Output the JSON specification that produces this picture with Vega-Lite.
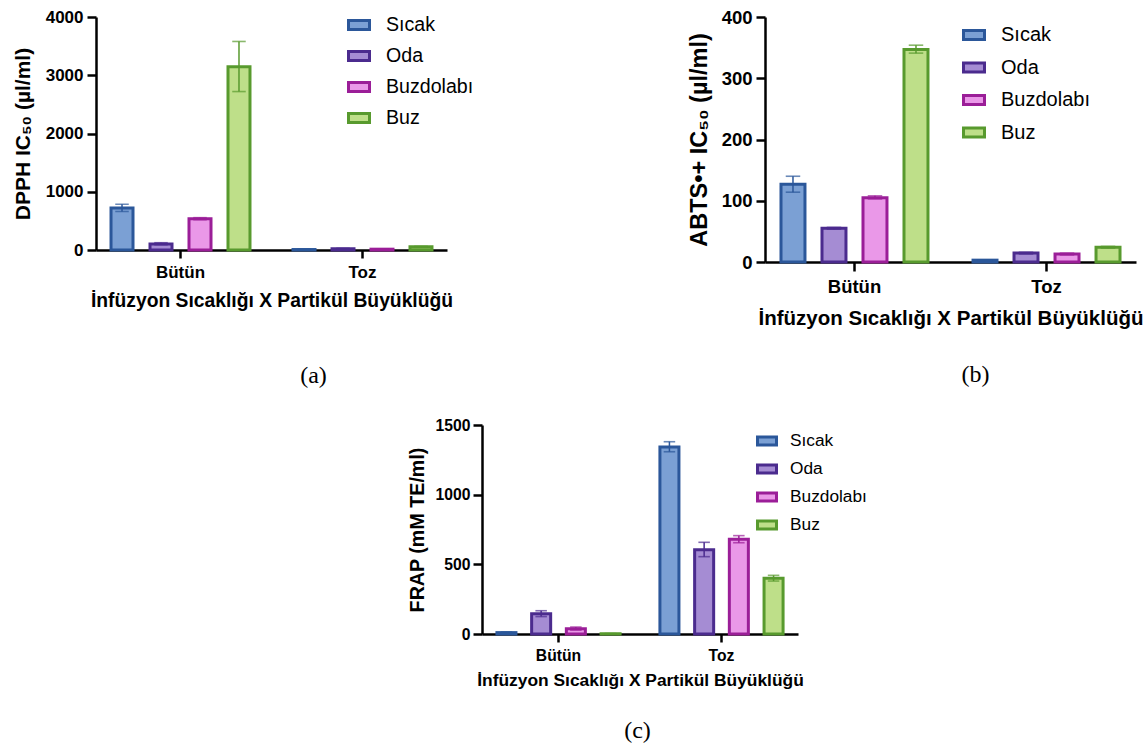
{
  "$schema": "https://vega.github.io/schema/vega-lite/v6.json",
  "background": "white",
  "padding": {"left": 12, "top": 8, "right": 0, "bottom": 0},
  "config": {
    "font": "Liberation Sans",
    "view": {"stroke": null},
    "axis": {"domainColor": "black", "domainWidth": 2.5, "tickColor": "black", "tickWidth": 2.5, "labelColor": "black", "titleColor": "black", "labelFontWeight": "bold", "titleFontWeight": "bold", "grid": false, "labelFont": "Liberation Sans", "titleFont": "Liberation Sans"},
    "legend": {"labelFont": "Liberation Sans", "labelColor": "black", "symbolStrokeWidth": 3, "symbolType": "M-1,-0.43H1V0.43H-1Z", "padding": 0, "title": null},
    "title": {"font": "Liberation Serif", "fontWeight": "normal", "color": "black", "orient": "bottom", "fontSize": 24, "frame": "group"}
  },
  "columns": 2,
  "spacing": {"row": 163, "column": 318},
  "bounds": "flush",
  "resolve": {"scale": {"fill": "independent", "stroke": "independent", "xOffset": "independent", "x": "independent", "y": "independent"}, "legend": {"fill": "independent", "stroke": "independent"}},
  "concat": [
    {
      "width": 351, "height": 233,
      "title": {"text": "(a)", "dx": 42, "offset": 54},
      "data": {"values": [
        {"grup": "Bütün", "sicaklik": "Sıcak", "ortalama": 720, "alt": 660, "ust": 785},
        {"grup": "Bütün", "sicaklik": "Oda", "ortalama": 105, "alt": 90, "ust": 125},
        {"grup": "Bütün", "sicaklik": "Buzdolabı", "ortalama": 535, "alt": 520, "ust": 555},
        {"grup": "Bütün", "sicaklik": "Buz", "ortalama": 3145, "alt": 2720, "ust": 3580},
        {"grup": "Toz", "sicaklik": "Sıcak", "ortalama": 8, "alt": 4, "ust": 12},
        {"grup": "Toz", "sicaklik": "Oda", "ortalama": 22, "alt": 16, "ust": 28},
        {"grup": "Toz", "sicaklik": "Buzdolabı", "ortalama": 14, "alt": 10, "ust": 18},
        {"grup": "Toz", "sicaklik": "Buz", "ortalama": 55, "alt": 48, "ust": 62}
      ]},
      "encoding": {
        "x": {"field": "grup", "type": "nominal", "sort": ["Bütün", "Toz"], "scale": {"paddingInner": 0.0714, "paddingOuter": 0}, "axis": {"title": "İnfüzyon Sıcaklığı X Partikül Büyüklüğü", "labelAngle": 0, "labelFontSize": 17, "titleFontSize": 19.3, "tickSize": 8, "labelPadding": 6, "titlePadding": 11}},
        "xOffset": {"field": "sicaklik", "type": "nominal", "sort": ["Sıcak", "Oda", "Buzdolabı", "Buz"], "scale": {"paddingInner": 0.436, "paddingOuter": 0.385}}
      },
      "layer": [
        {"mark": {"type": "bar", "strokeWidth": 3},
         "encoding": {
           "y": {"field": "ortalama", "type": "quantitative", "title": "DPPH IC₅₀ (µl/ml)", "scale": {"domain": [0, 4000], "nice": false}, "axis": {"values": [0, 1000, 2000, 3000, 4000], "format": "d", "labelFontSize": 17, "titleFontSize": 21, "tickSize": 9, "labelPadding": 4, "titlePadding": 12}},
           "fill": {"field": "sicaklik", "type": "nominal", "scale": {"domain": ["Sıcak", "Oda", "Buzdolabı", "Buz"], "range": ["#7ba0d4", "#a58cd3", "#ea98e8", "#bedf89"]}, "legend": {"orient": "none", "legendX": 251, "legendY": -4, "labelFontSize": 19.6, "rowPadding": 8, "labelOffset": 15, "symbolSize": 441}},
           "stroke": {"field": "sicaklik", "type": "nominal", "scale": {"domain": ["Sıcak", "Oda", "Buzdolabı", "Buz"], "range": ["#2b579a", "#4b2b8e", "#9b1e98", "#589a2e"]}, "legend": {"orient": "none", "legendX": 251, "legendY": -4, "labelFontSize": 19.6, "rowPadding": 8, "labelOffset": 15, "symbolSize": 441}}
         }},
        {"mark": {"type": "rule", "strokeWidth": 1.5},
         "encoding": {
           "y": {"field": "alt", "type": "quantitative", "title": "DPPH IC₅₀ (µl/ml)"},
           "y2": {"field": "ust"},
           "stroke": {"field": "sicaklik", "type": "nominal", "legend": null}
         }},
        {"mark": {"type": "tick", "size": 12, "thickness": 0.1, "filled": false, "strokeWidth": 1.5},
         "encoding": {
           "y": {"field": "ust", "type": "quantitative", "title": "DPPH IC₅₀ (µl/ml)"},
           "stroke": {"field": "sicaklik", "type": "nominal", "legend": null}
         }},
        {"mark": {"type": "tick", "size": 12, "thickness": 0.1, "filled": false, "strokeWidth": 1.5},
         "encoding": {
           "y": {"field": "alt", "type": "quantitative", "title": "DPPH IC₅₀ (µl/ml)"},
           "stroke": {"field": "sicaklik", "type": "nominal", "legend": null}
         }}
      ]
    },
    {
      "width": 371, "height": 245,
      "title": {"text": "(b)", "dx": 25, "offset": 34},
      "data": {"values": [
        {"grup": "Bütün", "sicaklik": "Sıcak", "ortalama": 127, "alt": 114, "ust": 140},
        {"grup": "Bütün", "sicaklik": "Oda", "ortalama": 55, "alt": 53.5, "ust": 56.5},
        {"grup": "Bütün", "sicaklik": "Buzdolabı", "ortalama": 105, "alt": 103, "ust": 108},
        {"grup": "Bütün", "sicaklik": "Buz", "ortalama": 347, "alt": 341, "ust": 354},
        {"grup": "Toz", "sicaklik": "Sıcak", "ortalama": 3, "alt": 2.5, "ust": 3.5},
        {"grup": "Toz", "sicaklik": "Oda", "ortalama": 14.5, "alt": 13, "ust": 16},
        {"grup": "Toz", "sicaklik": "Buzdolabı", "ortalama": 13, "alt": 11.5, "ust": 14.5},
        {"grup": "Toz", "sicaklik": "Buz", "ortalama": 24, "alt": 22.5, "ust": 25.5}
      ]},
      "encoding": {
        "x": {"field": "grup", "type": "nominal", "sort": ["Bütün", "Toz"], "scale": {"paddingInner": 0.068, "paddingOuter": 0}, "axis": {"title": "İnfüzyon Sıcaklığı X Partikül Büyüklüğü", "labelAngle": 0, "labelFontSize": 18.5, "titleFontSize": 20.5, "tickSize": 9, "labelPadding": 6, "titlePadding": 13}},
        "xOffset": {"field": "sicaklik", "type": "nominal", "sort": ["Sıcak", "Oda", "Buzdolabı", "Buz"], "scale": {"paddingInner": 0.415, "paddingOuter": 0.39}}
      },
      "layer": [
        {"mark": {"type": "bar", "strokeWidth": 3},
         "encoding": {
           "y": {"field": "ortalama", "type": "quantitative", "title": "ABTS•+ IC₅₀ (µl/ml)", "scale": {"domain": [0, 400], "nice": false}, "axis": {"values": [0, 100, 200, 300, 400], "format": "d", "labelFontSize": 18.5, "titleFontSize": 23.5, "tickSize": 9, "labelPadding": 4, "titlePadding": 10}},
           "fill": {"field": "sicaklik", "type": "nominal", "scale": {"domain": ["Sıcak", "Oda", "Buzdolabı", "Buz"], "range": ["#7ba0d4", "#a58cd3", "#ea98e8", "#bedf89"]}, "legend": {"orient": "none", "legendX": 197, "legendY": 6, "labelFontSize": 20, "rowPadding": 9.5, "labelOffset": 15, "symbolSize": 441}},
           "stroke": {"field": "sicaklik", "type": "nominal", "scale": {"domain": ["Sıcak", "Oda", "Buzdolabı", "Buz"], "range": ["#2b579a", "#4b2b8e", "#9b1e98", "#589a2e"]}, "legend": {"orient": "none", "legendX": 197, "legendY": 6, "labelFontSize": 20, "rowPadding": 9.5, "labelOffset": 15, "symbolSize": 441}}
         }},
        {"mark": {"type": "rule", "strokeWidth": 1.5},
         "encoding": {
           "y": {"field": "alt", "type": "quantitative", "title": "ABTS•+ IC₅₀ (µl/ml)"},
           "y2": {"field": "ust"},
           "stroke": {"field": "sicaklik", "type": "nominal", "legend": null}
         }},
        {"mark": {"type": "tick", "size": 13, "thickness": 0.1, "filled": false, "strokeWidth": 1.5},
         "encoding": {
           "y": {"field": "ust", "type": "quantitative", "title": "ABTS•+ IC₅₀ (µl/ml)"},
           "stroke": {"field": "sicaklik", "type": "nominal", "legend": null}
         }},
        {"mark": {"type": "tick", "size": 13, "thickness": 0.1, "filled": false, "strokeWidth": 1.5},
         "encoding": {
           "y": {"field": "alt", "type": "quantitative", "title": "ABTS•+ IC₅₀ (µl/ml)"},
           "stroke": {"field": "sicaklik", "type": "nominal", "legend": null}
         }}
      ]
    },
    {
      "width": 351, "height": 209,
      "title": {"text": "(c)", "dx": 366, "offset": 30},
      "data": {"values": [
        {"grup": "Bütün", "sicaklik": "Sıcak", "ortalama": 10, "alt": 5, "ust": 15},
        {"grup": "Bütün", "sicaklik": "Oda", "ortalama": 145, "alt": 125, "ust": 167},
        {"grup": "Bütün", "sicaklik": "Buzdolabı", "ortalama": 38, "alt": 28, "ust": 50},
        {"grup": "Bütün", "sicaklik": "Buz", "ortalama": 2, "alt": 1, "ust": 3},
        {"grup": "Toz", "sicaklik": "Sıcak", "ortalama": 1342, "alt": 1308, "ust": 1380},
        {"grup": "Toz", "sicaklik": "Oda", "ortalama": 605, "alt": 555, "ust": 658},
        {"grup": "Toz", "sicaklik": "Buzdolabı", "ortalama": 680, "alt": 655, "ust": 706},
        {"grup": "Toz", "sicaklik": "Buz", "ortalama": 400, "alt": 380, "ust": 421}
      ]},
      "encoding": {
        "x": {"field": "grup", "type": "nominal", "sort": ["Bütün", "Toz"], "scale": {"paddingInner": 0.0613, "paddingOuter": 0, "range": [386, 702]}, "axis": {"title": "İnfüzyon Sıcaklığı X Partikül Büyüklüğü", "labelAngle": 0, "labelFontSize": 15.7, "titleFontSize": 17.4, "tickSize": 8, "labelPadding": 6, "titlePadding": 9}},
        "xOffset": {"field": "sicaklik", "type": "nominal", "sort": ["Sıcak", "Oda", "Buzdolabı", "Buz"], "scale": {"paddingInner": 0.452, "paddingOuter": 0.43}}
      },
      "layer": [
        {"mark": {"type": "bar", "strokeWidth": 3},
         "encoding": {
           "y": {"field": "ortalama", "type": "quantitative", "title": "FRAP (mM TE/ml)", "scale": {"domain": [0, 1500], "nice": false}, "axis": {"values": [0, 500, 1000, 1500], "format": "d", "offset": -386, "labelFontSize": 15.7, "titleFontSize": 19.7, "tickSize": 9, "labelPadding": 3, "titlePadding": 8}},
           "fill": {"field": "sicaklik", "type": "nominal", "scale": {"domain": ["Sıcak", "Oda", "Buzdolabı", "Buz"], "range": ["#7ba0d4", "#a58cd3", "#ea98e8", "#bedf89"]}, "legend": {"orient": "none", "legendX": 660, "legendY": 5, "labelFontSize": 17.3, "rowPadding": 6, "labelOffset": 12, "symbolSize": 361}},
           "stroke": {"field": "sicaklik", "type": "nominal", "scale": {"domain": ["Sıcak", "Oda", "Buzdolabı", "Buz"], "range": ["#2b579a", "#4b2b8e", "#9b1e98", "#589a2e"]}, "legend": {"orient": "none", "legendX": 660, "legendY": 5, "labelFontSize": 17.3, "rowPadding": 6, "labelOffset": 12, "symbolSize": 361}}
         }},
        {"mark": {"type": "rule", "strokeWidth": 1.5},
         "encoding": {
           "y": {"field": "alt", "type": "quantitative", "title": "FRAP (mM TE/ml)"},
           "y2": {"field": "ust"},
           "stroke": {"field": "sicaklik", "type": "nominal", "legend": null}
         }},
        {"mark": {"type": "tick", "size": 10, "thickness": 0.1, "filled": false, "strokeWidth": 1.5},
         "encoding": {
           "y": {"field": "ust", "type": "quantitative", "title": "FRAP (mM TE/ml)"},
           "stroke": {"field": "sicaklik", "type": "nominal", "legend": null}
         }},
        {"mark": {"type": "tick", "size": 10, "thickness": 0.1, "filled": false, "strokeWidth": 1.5},
         "encoding": {
           "y": {"field": "alt", "type": "quantitative", "title": "FRAP (mM TE/ml)"},
           "stroke": {"field": "sicaklik", "type": "nominal", "legend": null}
         }}
      ]
    }
  ]
}
